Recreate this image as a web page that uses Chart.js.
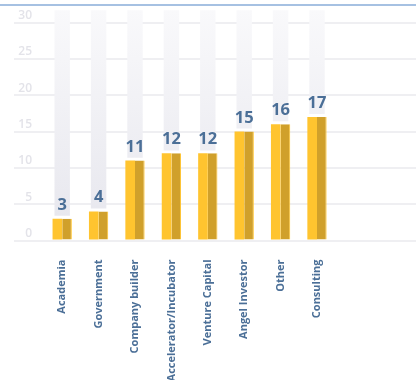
<!DOCTYPE html>
<html>
<head>
<meta charset="utf-8">
<script src="https://cdn.jsdelivr.net/npm/chart.js@4"></script>
<style>
  html, body { margin: 0; padding: 0; background: #fff; }
  #wrap { position: relative; width: 416px; height: 380px; overflow: hidden; }
  #topline { position: absolute; left: 0; top: 4px; width: 416px; height: 2px; background: #a6c1e2; }
  canvas { position: absolute; left: 0; top: 0; }
</style>
</head>
<body>
<div id="wrap">
  <canvas id="chart" width="416" height="380"></canvas>
  <div id="topline"></div>
</div>
<script>
const categories = [
  'Academia', 'Government', 'Company builder', 'Accelerator/Incubator',
  'Venture Capital', 'Angel Investor', 'Other', 'Consulting'
];
const values = [3, 4, 11, 12, 12, 15, 16, 17];
const yTicks = [0, 5, 10, 15, 20, 25, 30];

// two empty slots keep the bars to the left like the original
const labels = categories.concat(['', '']);
const trackTop = 31.7;
const trackData = values.map(v => [v + 0.4, trackTop]);

const blue = '#4b6f97';
const gridColor = '#efeff2';
const barShare = 0.53;

const trackFill = (ctx) => {
  const chart = ctx.chart;
  const area = chart.chartArea;
  if (!area) return '#f2f2f5';
  const g = chart.ctx.createLinearGradient(0, area.top - 12, 0, area.bottom);
  g.addColorStop(0, '#f9f9fb');
  g.addColorStop(1, '#e6e6ed');
  return g;
};

const valueLabels = {
  id: 'valueLabels',
  afterDatasetsDraw(chart) {
    const a = chart.getDatasetMeta(1).data;
    const b = chart.getDatasetMeta(2).data;
    const c = chart.ctx;
    c.save();
    c.font = 'bold 16.5px "Open Sans"';
    c.fillStyle = blue;
    c.textAlign = 'center';
    c.textBaseline = 'alphabetic';
    values.forEach((v, i) => {
      const x = (a[i].x + b[i].x) / 2;
      c.fillText(String(v), x, a[i].y - 9);
    });
    c.restore();
  }
};

new Chart(document.getElementById('chart').getContext('2d'), {
  type: 'bar',
  data: {
    labels: labels,
    datasets: [
      {
        label: 'track',
        data: trackData,
        grouped: false,
        backgroundColor: trackFill,
        barPercentage: barShare,
        clip: false
      },
      {
        label: 'left',
        data: values,
        backgroundColor: '#ffc42f',
        categoryPercentage: barShare,
        barPercentage: 1
      },
      {
        label: 'right',
        data: values,
        backgroundColor: '#d0a02b',
        borderColor: '#ffc42f',
        borderWidth: { top: 0, right: 1, bottom: 0, left: 0 },
        borderSkipped: false,
        categoryPercentage: barShare,
        barPercentage: 1
      }
    ]
  },
  options: {
    responsive: false,
    animation: false,
    layout: { padding: { top: 22.5, left: 0, right: 0, bottom: 0 } },
    plugins: {
      legend: { display: false },
      tooltip: { enabled: false }
    },
    scales: {
      x: {
        offset: true,
        grid: { display: false },
        border: { display: false },
        ticks: {
          autoSkip: false,
          minRotation: 90,
          maxRotation: 90,
          padding: 11,
          color: blue,
          font: { family: 'Open Sans', size: 11, weight: 'bold' }
        },
        afterFit(scale) { scale.height = 139.5; }
      },
      y: {
        min: 0,
        max: 30,
        afterBuildTicks(scale) { scale.ticks = yTicks.map(v => ({ value: v })); },
        grid: { color: gridColor, lineWidth: 2, tickLength: 30, tickColor: gridColor },
        border: { display: false },
        ticks: {
          padding: -18,
          labelOffset: -7,
          color: '#e3e3e9',
          font: { family: 'Open Sans', size: 12, weight: '600' }
        },
        afterFit(scale) { scale.width = 44; }
      },
      y2: {
        position: 'right',
        min: 0,
        max: 30,
        afterBuildTicks(scale) { scale.ticks = yTicks.map(v => ({ value: v })); },
        grid: { drawOnChartArea: false, tickLength: 8, tickColor: gridColor, lineWidth: 2 },
        border: { display: false },
        ticks: { display: false }
      }
    }
  },
  plugins: [valueLabels]
});
</script>
</body>
</html>
